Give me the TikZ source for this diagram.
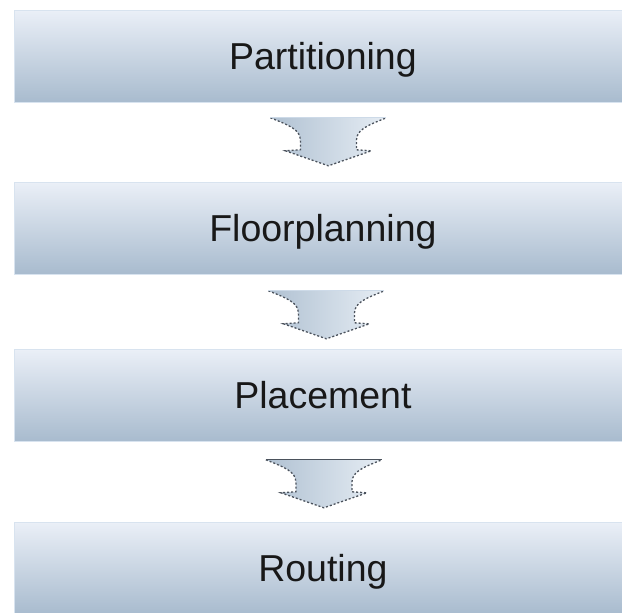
\documentclass[tikz,border=0pt]{standalone}
\usepackage{fontspec}
\setmainfont{Liberation Sans}
\usetikzlibrary{calc}
\definecolor{stagetop}{RGB}{234,239,247}
\definecolor{stagebot}{RGB}{168,187,206}
\definecolor{stageedge}{RGB}{216,227,239}
\definecolor{arrowleft}{RGB}{176,193,210}
\definecolor{arrowright}{RGB}{230,237,244}
\definecolor{arrowline}{RGB}{75,82,92}
\definecolor{arrowlight}{RGB}{205,218,232}
\definecolor{stageink}{RGB}{24,24,24}
\tikzset{
  stage/.style={draw=stageedge, line width=0.8pt,
    top color=stagetop, bottom color=stagebot,
    minimum width=617pt, minimum height=92pt, inner sep=0pt,
    text height=27pt, text depth=1pt, anchor=north west,
    font=\fontsize{37.5pt}{40pt}\selectfont, text=stageink},
  arrowfill/.style={left color=arrowleft, right color=arrowright},
  arrowdots/.style={draw=arrowline, line width=1.3pt, dash pattern=on 2pt off 2pt},
  stagearrow/.pic={
    \path[arrowfill] (-58,0) .. controls (-38,8) and (-28,12) .. (-28,23)
      -- (-28,32) -- (-43,33) -- (0,48) -- (43,33) -- (28,32) -- (28,23)
      .. controls (28,12) and (38,8) .. (58,0) -- cycle;
    \draw[arrowdots] (-58,0) .. controls (-38,8) and (-28,12) .. (-28,23)
      -- (-28,32) -- (-43,33) -- (0,48) -- (43,33) -- (28,32) -- (28,23)
      .. controls (28,12) and (38,8) .. (58,0);
    \draw[#1, line width=1.2pt] (-58,0) -- (58,0);
  }
}
\begin{document}
\begin{tikzpicture}[x=1pt, y=-1pt]
  \useasboundingbox (0,0) rectangle (622,613);
  \begin{scope}
    \clip (0,0) rectangle (622,613);
    % the four design stages
    \node[stage] (part)  at (14,10)  {Partitioning};
    \node[stage] (floor) at (14,182) {Floorplanning};
    \node[stage] (place) at (14,349) {Placement};
    \node[stage] (route) at (14,522) {Routing};
    % block arrows between consecutive stages
    \pic at ($(part.south)+(5.5,15)$)  {stagearrow=arrowlight};
    \pic at ($(floor.south)+(3.5,16)$) {stagearrow=arrowlight};
    \pic at ($(place.south)+(1,18)$)   {stagearrow=arrowline};
  \end{scope}
\end{tikzpicture}
\end{document}
